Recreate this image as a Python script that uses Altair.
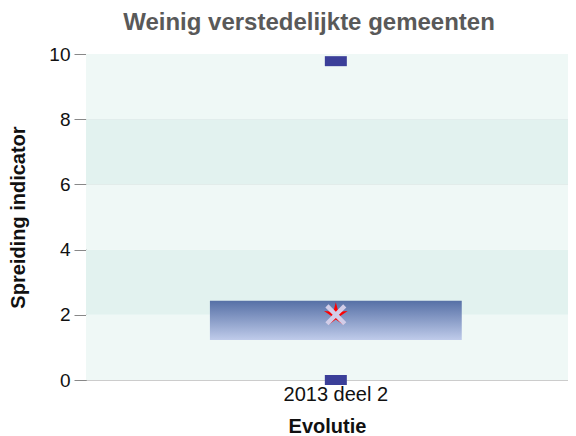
import altair as alt
import pandas as pd

categories = ["2013 deel 2"]
box_low = [1.23]
box_high = [2.43]
whisker_min = [0.0]
whisker_max = [9.78]
mean_val = [2.0]

band_lo = [0, 2, 4, 6, 8]
band_hi = [2, 4, 6, 8, 10]
band_col = ["#eff8f6", "#e2f2ef", "#eff8f6", "#e2f2ef", "#eff8f6"]

FONT = "Liberation Sans"

df = pd.DataFrame({"cat": categories, "low": box_low, "high": box_high,
                   "wmin": whisker_min, "wmax": whisker_max, "mean": mean_val})
bands = pd.DataFrame({"lo": band_lo, "hi": band_hi, "col": band_col})

yscale = alt.Scale(domain=[0, 10], nice=False, zero=True)
xscale = alt.Scale(domain=categories, paddingInner=0, paddingOuter=0.1, align=0.61)

bg = alt.Chart(bands).mark_rect().encode(
    y=alt.Y("lo:Q", scale=yscale),
    y2="hi:Q",
    color=alt.Color("col:N", scale=None),
)

xenc = alt.X("cat:N", scale=xscale, title="Evolutie",
             axis=alt.Axis(labelAngle=0, labelFontSize=20, labelColor="#111",
                           labelFont=FONT, labelPadding=4, ticks=False,
                           domainColor="#cccccc", titleFont=FONT, titleFontSize=20,
                           titleFontWeight="bold", titleColor="#111", titlePadding=12))
yenc_axis = alt.Axis(values=[0, 2, 4, 6, 8, 10], labelFontSize=19, labelColor="#111",
                     labelFont=FONT, tickSize=12, tickColor="#888", domainColor="#888",
                     gridColor="#d4d4d4", grid=True, labelPadding=4,
                     titleFont=FONT, titleFontSize=20, titleFontWeight="bold",
                     titleColor="#111", titlePadding=20)

box = alt.Chart(df).mark_bar(
    width=alt.RelativeBandSize(0.627),
    color=alt.Gradient(gradient="linear",
                       stops=[alt.GradientStop(color="#5670a6", offset=0),
                              alt.GradientStop(color="#bfcbea", offset=1)],
                       x1=0, x2=0, y1=0, y2=1),
).encode(
    x=xenc,
    y=alt.Y("low:Q", scale=yscale, title="Spreiding indicator", axis=yenc_axis),
    y2="high:Q",
)

wmax = alt.Chart(df).mark_tick(color="#3b3f99", size=22, thickness=10, orient="horizontal", opacity=1).encode(
    x=alt.X("cat:N", scale=xscale), y=alt.Y("wmax:Q", scale=yscale))
wmin = alt.Chart(df).mark_tick(color="#3b3f99", size=22, thickness=10, orient="horizontal", opacity=1).encode(
    x=alt.X("cat:N", scale=xscale), y=alt.Y("wmin:Q", scale=yscale))

star_path = "M0,-1L0.2,-0.25L0.95,-0.3L0.33,0.12L0.6,0.8L0,0.38L-0.6,0.8L-0.33,0.12L-0.95,-0.3L-0.2,-0.25Z"
x_path = "M-1,-0.7L-0.7,-1L0,-0.3L0.7,-1L1,-0.7L0.3,0L1,0.7L0.7,1L0,0.3L-0.7,1L-1,0.7L-0.3,0Z"
star = alt.Chart(df).mark_point(shape=star_path, filled=True, color="#ff0000", size=620, opacity=1).encode(
    x=alt.X("cat:N", scale=xscale), y=alt.Y("mean:Q", scale=yscale))
xmark = alt.Chart(df).mark_point(shape=x_path, filled=True, color="#d2cde8", size=440, opacity=1).encode(
    x=alt.X("cat:N", scale=xscale), y=alt.Y("mean:Q", scale=yscale))

chart = alt.layer(bg, box, wmax, wmin, star, xmark).properties(
    width=482, height=326,
    title=alt.TitleParams("Weinig verstedelijkte gemeenten", font=FONT, fontSize=24,
                          fontWeight="bold", color="#595959", dx=-18, offset=10),
    autosize=alt.AutoSizeParams(type="none"),
    padding={"left": 78, "top": 46, "right": 0, "bottom": 58},
).configure_view(stroke=None).configure(background="white")

chart.save("out.html", embed_options={"renderer": "svg", "actions": False})
